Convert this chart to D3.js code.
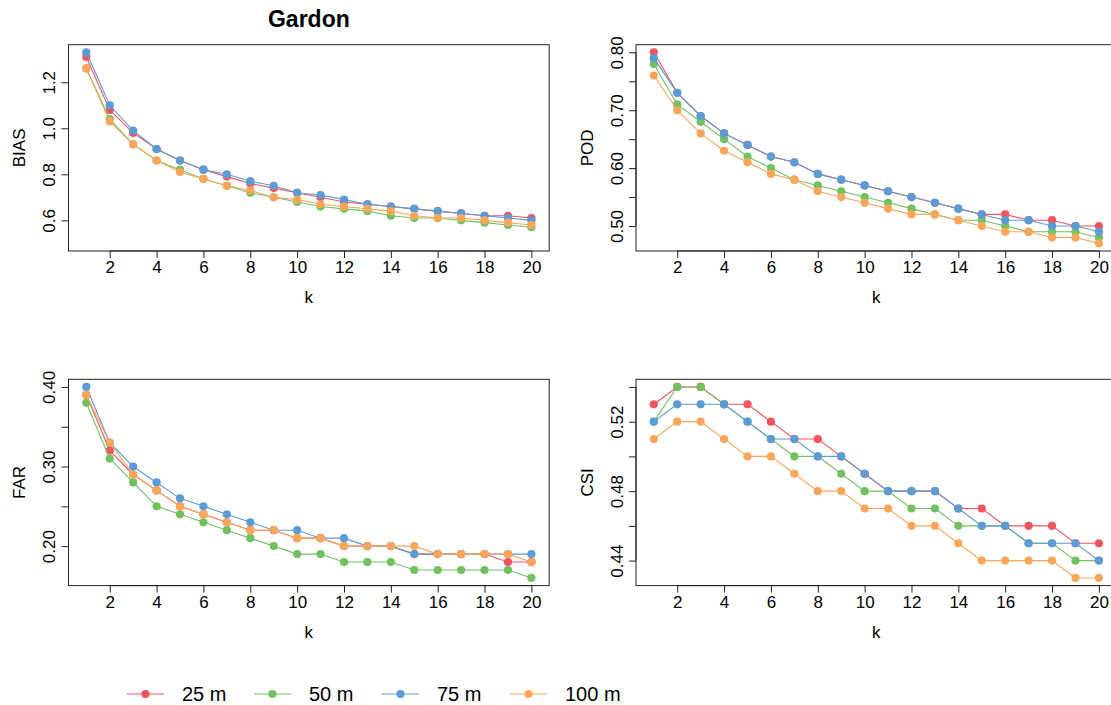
<!DOCTYPE html>
<html>
<head>
<meta charset="utf-8">
<script src="https://cdn.jsdelivr.net/npm/d3@7"></script>
<style>
  html, body { margin: 0; padding: 0; background: #ffffff; }
  svg { display: block; }
  text { font-family: "Liberation Sans", Arial, Helvetica, sans-serif; fill: #000; }
</style>
</head>
<body>
<svg id="chart" width="1111" height="705"></svg>
<script>
// ---------------- DATA ----------------
const kValues = [1,2,3,4,5,6,7,8,9,10,11,12,13,14,15,16,17,18,19,20];
const seriesNames = ["25 m", "50 m", "75 m", "100 m"];
const seriesColors = ["#F0555F", "#72C05F", "#5B9BD6", "#F9A65A"];
const xTicks = [2,4,6,8,10,12,14,16,18,20];

const bias25  = [1.31,1.08,0.98,0.91,0.86,0.82,0.79,0.76,0.74,0.72,0.70,0.68,0.67,0.66,0.65,0.64,0.63,0.62,0.62,0.61];
const bias50  = [1.26,1.04,0.93,0.86,0.82,0.78,0.75,0.72,0.70,0.68,0.66,0.65,0.64,0.62,0.61,0.61,0.60,0.59,0.58,0.57];
const bias75  = [1.33,1.10,0.99,0.91,0.86,0.82,0.80,0.77,0.75,0.72,0.71,0.69,0.67,0.66,0.65,0.64,0.63,0.62,0.61,0.60];
const bias100 = [1.26,1.03,0.93,0.86,0.81,0.78,0.75,0.73,0.70,0.69,0.67,0.66,0.65,0.64,0.62,0.61,0.61,0.60,0.59,0.58];

const pod25  = [0.80,0.73,0.69,0.66,0.64,0.62,0.61,0.59,0.58,0.57,0.56,0.55,0.54,0.53,0.52,0.52,0.51,0.51,0.50,0.50];
const pod50  = [0.78,0.71,0.68,0.65,0.62,0.60,0.58,0.57,0.56,0.55,0.54,0.53,0.52,0.51,0.51,0.50,0.49,0.49,0.49,0.48];
const pod75  = [0.79,0.73,0.69,0.66,0.64,0.62,0.61,0.59,0.58,0.57,0.56,0.55,0.54,0.53,0.52,0.51,0.51,0.50,0.50,0.49];
const pod100 = [0.76,0.70,0.66,0.63,0.61,0.59,0.58,0.56,0.55,0.54,0.53,0.52,0.52,0.51,0.50,0.49,0.49,0.48,0.48,0.47];

const far25  = [0.39,0.32,0.29,0.27,0.25,0.24,0.23,0.22,0.22,0.21,0.21,0.20,0.20,0.20,0.19,0.19,0.19,0.19,0.18,0.18];
const far50  = [0.38,0.31,0.28,0.25,0.24,0.23,0.22,0.21,0.20,0.19,0.19,0.18,0.18,0.18,0.17,0.17,0.17,0.17,0.17,0.16];
const far75  = [0.40,0.33,0.30,0.28,0.26,0.25,0.24,0.23,0.22,0.22,0.21,0.21,0.20,0.20,0.19,0.19,0.19,0.19,0.19,0.19];
const far100 = [0.39,0.33,0.29,0.27,0.25,0.24,0.23,0.22,0.22,0.21,0.21,0.20,0.20,0.20,0.20,0.19,0.19,0.19,0.19,0.18];

const csi25  = [0.53,0.54,0.54,0.53,0.53,0.52,0.51,0.51,0.50,0.49,0.48,0.48,0.48,0.47,0.47,0.46,0.46,0.46,0.45,0.45];
const csi50  = [0.52,0.54,0.54,0.53,0.52,0.51,0.50,0.50,0.49,0.48,0.48,0.47,0.47,0.46,0.46,0.46,0.45,0.45,0.44,0.44];
const csi75  = [0.52,0.53,0.53,0.53,0.52,0.51,0.51,0.50,0.50,0.49,0.48,0.48,0.48,0.47,0.46,0.46,0.45,0.45,0.45,0.44];
const csi100 = [0.51,0.52,0.52,0.51,0.50,0.50,0.49,0.48,0.48,0.47,0.47,0.46,0.46,0.45,0.44,0.44,0.44,0.44,0.43,0.43];

const biasTicks = [0.6,0.8,1.0,1.2];           const biasLabels = ["0.6","0.8","1.0","1.2"];
const podTicks  = [0.50,0.55,0.60,0.65,0.70,0.75,0.80]; const podLabels = ["0.50","","0.60","","0.70","","0.80"];
const farTicks  = [0.20,0.25,0.30,0.35,0.40]; const farLabels = ["0.20","","0.30","","0.40"];
const csiTicks  = [0.44,0.46,0.48,0.50,0.52,0.54]; const csiLabels = ["0.44","","0.48","","0.52",""];

const chartTitle = "Gardon";
const xLabel = "k";

// ---------------- LAYOUT ----------------
const svg = d3.select("#chart");
const colLeft = [68.5, 636];
const plotW = 480.7;
const rowTop = [44.7, 379.3];
const plotH = 206.3;

const panels = [
  { name: "BIAS", series: [bias25,bias50,bias75,bias100], ylim: [0.5,1.33], ticks: biasTicks, labels: biasLabels, col: 0, row: 0 },
  { name: "POD",  series: [pod25,pod50,pod75,pod100], ylim: null, ticks: podTicks, labels: podLabels, col: 1, row: 0 },
  { name: "FAR",  series: [far25,far50,far75,far100], ylim: null, ticks: farTicks, labels: farLabels, col: 0, row: 1 },
  { name: "CSI",  series: [csi25,csi50,csi75,csi100], ylim: null, ticks: csiTicks, labels: csiLabels, col: 1, row: 1 }
];

function padded(lo, hi) { const d = (hi - lo) * 0.04; return [lo - d, hi + d]; }

panels.forEach(p => {
  const left = colLeft[p.col], top = rowTop[p.row];
  const xDom = padded(d3.min(kValues), d3.max(kValues));
  const lim = p.ylim || [d3.min(p.series.flat()), d3.max(p.series.flat())];
  const yDom = padded(lim[0], lim[1]);
  const x = d3.scaleLinear().domain(xDom).range([left, left + plotW]);
  const y = d3.scaleLinear().domain(yDom).range([top + plotH, top]);

  const g = svg.append("g");

  // series
  p.series.forEach((vals, si) => {
    const pts = kValues.map((k, i) => [k, vals[i]]);
    g.append("path")
      .attr("d", d3.line().x(d => x(d[0])).y(d => y(d[1]))(pts))
      .attr("fill", "none")
      .attr("stroke", seriesColors[si])
      .attr("stroke-width", 1.1);
    g.selectAll(null).data(pts).enter().append("circle")
      .attr("cx", d => x(d[0])).attr("cy", d => y(d[1]))
      .attr("r", 4.1)
      .attr("fill", seriesColors[si]);
  });

  // box
  g.append("rect")
    .attr("x", left).attr("y", top)
    .attr("width", plotW).attr("height", plotH)
    .attr("fill", "none").attr("stroke", "#222").attr("stroke-width", 1);

  // x axis
  const xa = g.append("g").attr("transform", `translate(0,${top + plotH})`)
    .call(d3.axisBottom(x).tickValues(xTicks).tickSize(7).tickPadding(3).tickFormat(d3.format("d")));
  xa.select(".domain").attr("stroke", "#222").attr("d", `M${x(xTicks[0])},0H${x(xTicks[xTicks.length-1])}`);
  xa.selectAll(".tick line").attr("stroke", "#222");
  xa.selectAll(".tick text").attr("font-size", 17).attr("font-family", "Liberation Sans, Arial, sans-serif").attr("fill", "#000");

  // y axis
  const ya = g.append("g").attr("transform", `translate(${left},0)`)
    .call(d3.axisLeft(y).tickValues(p.ticks).tickSize(7).tickFormat((d, i) => p.labels[i]));
  ya.select(".domain").attr("stroke", "#222").attr("d", `M0,${y(p.ticks[0])}V${y(p.ticks[p.ticks.length-1])}`);
  ya.selectAll(".tick line").attr("stroke", "#222");
  ya.selectAll(".tick text")
    .attr("font-size", 17).attr("font-family", "Liberation Sans, Arial, sans-serif").attr("fill", "#000")
    .attr("x", null).attr("dy", null)
    .attr("text-anchor", "middle")
    .attr("transform", "translate(-13.5,0) rotate(-90)");

  // axis titles
  svg.append("text")
    .attr("x", (left + left + plotW) / 2).attr("y", top + plotH + 52)
    .attr("text-anchor", "middle").attr("font-size", 17).text(xLabel);
  svg.append("text")
    .attr("transform", `translate(${left - 43.5},${top + plotH / 2}) rotate(-90)`)
    .attr("text-anchor", "middle").attr("font-size", 17).text(p.name);
});

// title
svg.append("text")
  .attr("x", colLeft[0] + plotW / 2).attr("y", 26.5)
  .attr("text-anchor", "middle").attr("font-size", 23).attr("font-weight", "bold")
  .text(chartTitle);

// legend
const legendX = [127, 254, 382, 510];
const legY = 694;
const lg = svg.append("g");
seriesNames.forEach((name, i) => {
  const x0 = legendX[i];
  lg.append("line").attr("x1", x0).attr("x2", x0 + 37).attr("y1", legY).attr("y2", legY)
    .attr("stroke", seriesColors[i]).attr("stroke-width", 1.1);
  lg.append("circle").attr("cx", x0 + 18.5).attr("cy", legY).attr("r", 4.1).attr("fill", seriesColors[i]);
  lg.append("text").attr("x", x0 + 55).attr("y", legY + 7).attr("font-size", 20).text(name);
});
</script>
</body>
</html>
